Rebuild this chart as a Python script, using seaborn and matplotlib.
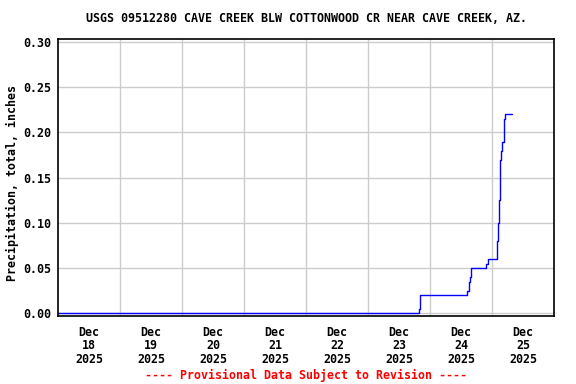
import pandas as pd
import matplotlib
matplotlib.use('Agg')
from matplotlib import pyplot as plt
from matplotlib.ticker import FormatStrFormatter
import seaborn as sns

title = 'USGS 09512280 CAVE CREEK BLW COTTONWOOD CR NEAR CAVE CREEK, AZ.'
ylabel = 'Precipitation, total, inches'
footer = '---- Provisional Data Subject to Revision ----'

# readings (step values)
times = ['2025-12-18 00:00', '2025-12-23 19:40', '2025-12-23 20:15',
         '2025-12-24 14:25', '2025-12-24 15:05', '2025-12-24 15:30',
         '2025-12-24 16:00', '2025-12-24 21:40', '2025-12-24 22:20',
         '2025-12-25 02:00', '2025-12-25 02:25', '2025-12-25 02:50',
         '2025-12-25 03:10', '2025-12-25 03:35', '2025-12-25 04:00',
         '2025-12-25 04:35', '2025-12-25 05:10', '2025-12-25 07:35']
precip = [0.0, 0.005, 0.02,
          0.025, 0.035, 0.04,
          0.05, 0.055, 0.06,
          0.08, 0.10, 0.125,
          0.17, 0.18, 0.19,
          0.215, 0.22, 0.22]

day_labels = ['Dec\n18\n2025', 'Dec\n19\n2025', 'Dec\n20\n2025', 'Dec\n21\n2025',
              'Dec\n22\n2025', 'Dec\n23\n2025', 'Dec\n24\n2025', 'Dec\n25\n2025']
y_ticks = [0.00, 0.05, 0.10, 0.15, 0.20, 0.25, 0.30]

df = pd.DataFrame({'time': pd.to_datetime(times), 'precip': precip})

sns.set_style('white')
plt.rcParams['font.family'] = ['DejaVu Sans Mono']
plt.rcParams['font.weight'] = 'bold'
plt.rcParams['text.color'] = 'black'
plt.rcParams['xtick.color'] = 'black'
plt.rcParams['ytick.color'] = 'black'
fs = 8.4

fig = plt.figure(figsize=(5.76, 3.84), dpi=100)
ax = fig.add_axes([58 / 576, 1 - 316 / 384, 496 / 576, 277 / 384])

sns.lineplot(data=df, x='time', y='precip', ax=ax, color='#0000ff', linewidth=1.0,
             drawstyle='steps-post', estimator=None)

start = pd.Timestamp('2025-12-18 00:00')
ax.set_xlim(start, start + pd.Timedelta(days=8))
ax.set_ylim(-0.003, 0.3034)

noons = [start + pd.Timedelta(hours=12 + 24 * i) for i in range(8)]
midnights = [start + pd.Timedelta(days=i) for i in range(1, 8)]
ax.set_xticks(noons)
ax.set_xticklabels(day_labels, fontsize=fs, fontweight='bold', linespacing=1.05,
                   color='black')
ax.set_xticks(midnights, minor=True)
ax.set_yticks(y_ticks)
ax.yaxis.set_major_formatter(FormatStrFormatter('%.2f'))
for lab in ax.get_yticklabels():
    lab.set_fontsize(fs)
    lab.set_fontweight('bold')
    lab.set_color('black')

ax.grid(False)
ax.grid(which='minor', axis='x', color='#cccccc', linewidth=1.0)
ax.grid(which='major', axis='y', color='#cccccc', linewidth=1.0)
ax.tick_params(axis='x', which='both', length=0, pad=7)
ax.tick_params(axis='y', which='both', length=0, pad=5)
ax.set_xlabel('')
ax.set_ylabel('')
for sp in ax.spines.values():
    sp.set_color('black')
    sp.set_linewidth(1.2)

fig.text(306 / 576, 1 - 19 / 384, title, ha='center', va='center', fontsize=fs,
         fontweight='bold', color='black')
fig.text(12 / 576, 1 - 183 / 384, ylabel, ha='center', va='center', rotation=90,
         fontsize=fs, fontweight='bold', color='black')
fig.text(306 / 576, 1 - 375 / 384, footer, ha='center', va='center', fontsize=fs,
         fontweight='bold', color='#ff0000')

fig.savefig('out.png', dpi=100)
